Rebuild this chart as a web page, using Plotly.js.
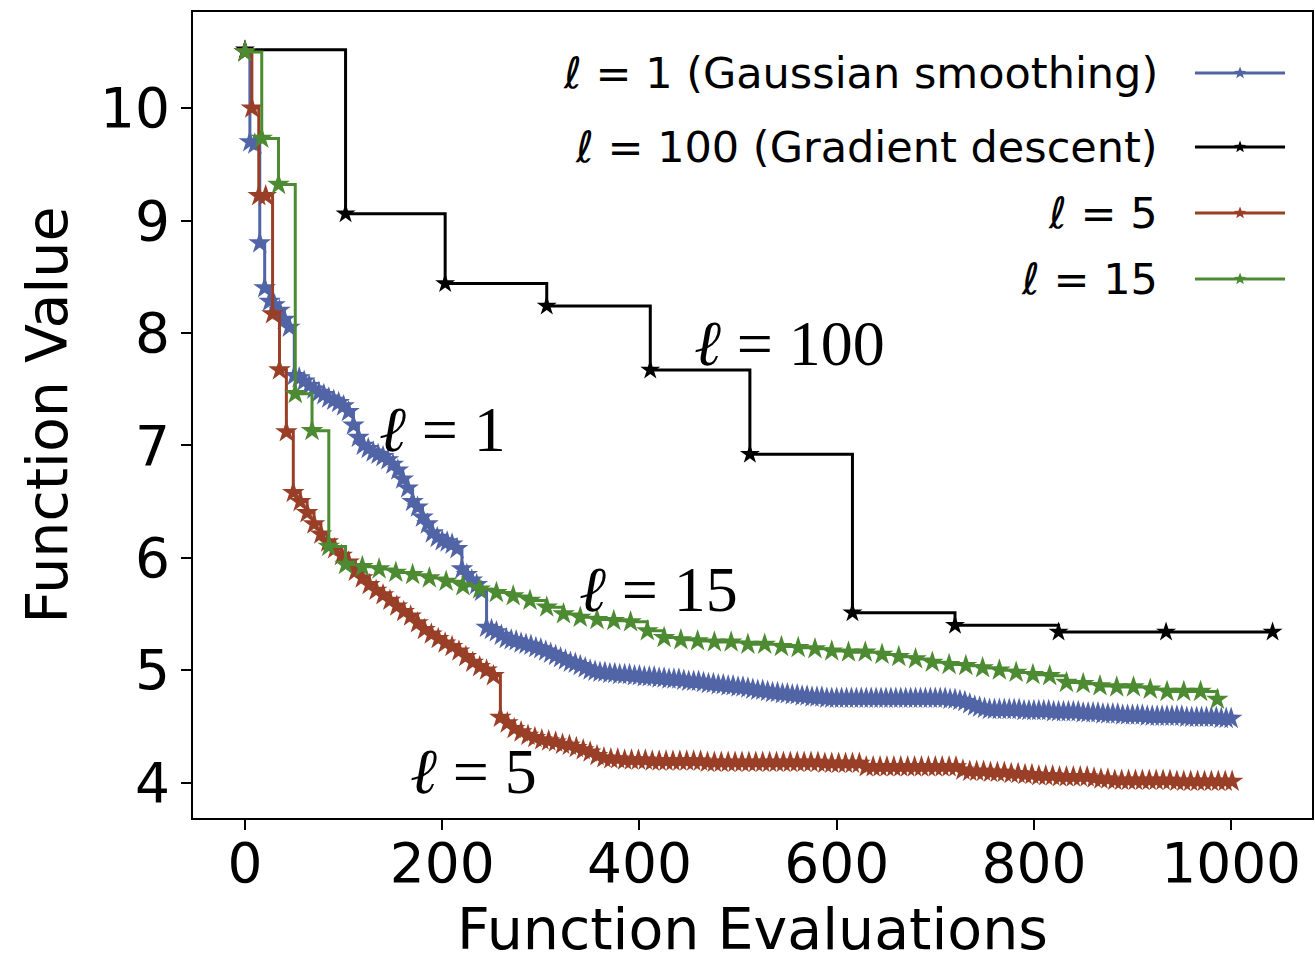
<!DOCTYPE html>
<html><head><meta charset="utf-8">
<script src="https://cdn.plot.ly/plotly-3.0.1.min.js"></script>
<style>html,body{margin:0;padding:0;background:#fff}#chart{width:1315px;height:962px}</style>
</head><body><div id="chart"></div>
<script>
// ---- data (function evaluations vs. function value) ----
const seriesNames = ["ℓ = 1 (Gaussian smoothing)", "ℓ = 100 (Gradient descent)", "ℓ = 5", "ℓ = 15"];
const curveLabels = ["ℓ = 1", "ℓ = 100", "ℓ = 5", "ℓ = 15"];

// ℓ = 1 : evaluations 0,5,10,...,1000
const evalStepL1 = 5;
const valuesL1 = [
  10.5, 9.7, 9.68, 8.8, 8.4, 8.28, 8.25, 8.2, 8.12, 8.05,
  7.62, 7.6, 7.57, 7.53, 7.5, 7.47, 7.45, 7.42, 7.4, 7.38,
  7.35, 7.3, 7.18, 7.07, 7.0, 6.97, 6.94, 6.92, 6.9, 6.87,
  6.83, 6.78, 6.7, 6.62, 6.5, 6.45, 6.36, 6.3, 6.22, 6.18,
  6.15, 6.14, 6.12, 6.08, 5.9, 5.85, 5.8, 5.76, 5.7, 5.38,
  5.36, 5.34, 5.31, 5.28, 5.27, 5.26, 5.24, 5.23, 5.22, 5.2,
  5.19, 5.17, 5.15, 5.13, 5.11, 5.09, 5.07, 5.06, 5.04, 5.02,
  5.0, 4.99, 4.98, 4.98, 4.97, 4.97, 4.96, 4.96, 4.96, 4.95,
  4.95, 4.94, 4.94, 4.94, 4.93, 4.93, 4.92, 4.92, 4.92, 4.91,
  4.9, 4.9, 4.9, 4.89, 4.88, 4.88, 4.87, 4.87, 4.86, 4.86,
  4.85, 4.85, 4.84, 4.83, 4.82, 4.82, 4.81, 4.8, 4.8, 4.79,
  4.79, 4.78, 4.78, 4.77, 4.77, 4.76, 4.76, 4.76, 4.75, 4.75,
  4.75, 4.75, 4.75, 4.75, 4.75, 4.75, 4.75, 4.75, 4.75, 4.75,
  4.75, 4.75, 4.75, 4.75, 4.75, 4.75, 4.75, 4.75, 4.75, 4.75,
  4.75, 4.75, 4.75, 4.74, 4.74, 4.73, 4.72, 4.7, 4.68, 4.67,
  4.66, 4.65, 4.65, 4.65, 4.65, 4.65, 4.65, 4.65, 4.64, 4.64,
  4.64, 4.64, 4.64, 4.64, 4.63, 4.63, 4.63, 4.63, 4.63, 4.63,
  4.62, 4.62, 4.62, 4.62, 4.61, 4.61, 4.61, 4.61, 4.6, 4.6,
  4.6, 4.6, 4.6, 4.59, 4.59, 4.59, 4.59, 4.59, 4.59, 4.59,
  4.59, 4.58, 4.58, 4.58, 4.58, 4.58, 4.58, 4.58, 4.57, 4.57,
  4.57
];

// ℓ = 100 : gradient descent iterations
const evalsL100 = [0, 102, 203, 306, 411, 512, 616, 720, 825, 934, 1042];
const valuesL100 = [10.52, 9.06, 8.44, 8.24, 7.67, 6.92, 5.51, 5.4, 5.34, 5.34, 5.34];

// ℓ = 5 : evaluations 0,7,14,...,1001
const evalStepL5 = 7;
const valuesL5 = [
  10.5, 10.0, 9.22, 9.22, 8.17, 7.67, 7.12, 6.58, 6.5, 6.4,
  6.3, 6.21, 6.14, 6.08, 6.02, 5.96, 5.88, 5.82, 5.76, 5.71,
  5.67, 5.62, 5.57, 5.52, 5.48, 5.42, 5.36, 5.32, 5.28, 5.24,
  5.21, 5.17, 5.12, 5.07, 5.03, 5.0, 4.95, 4.58, 4.53, 4.48,
  4.45, 4.42, 4.4, 4.38, 4.37, 4.36, 4.34, 4.33, 4.31, 4.29,
  4.27, 4.24, 4.22, 4.21, 4.21, 4.2, 4.2, 4.2, 4.2, 4.19,
  4.19, 4.19, 4.19, 4.19, 4.19, 4.19, 4.19, 4.18, 4.18, 4.18,
  4.18, 4.18, 4.18, 4.18, 4.18, 4.18, 4.18, 4.18, 4.18, 4.18,
  4.18, 4.18, 4.18, 4.18, 4.17, 4.17, 4.17, 4.17, 4.17, 4.17,
  4.14, 4.14, 4.14, 4.14, 4.14, 4.14, 4.14, 4.14, 4.14, 4.14,
  4.14, 4.14, 4.14, 4.14, 4.11, 4.1, 4.1, 4.1, 4.09, 4.09,
  4.09, 4.08, 4.08, 4.07, 4.07, 4.06, 4.06, 4.06, 4.05, 4.05,
  4.05, 4.05, 4.05, 4.04, 4.03, 4.03, 4.02, 4.02, 4.02, 4.02,
  4.02, 4.02, 4.02, 4.02, 4.02, 4.01, 4.01, 4.01, 4.01, 4.01,
  4.01, 4.01, 4.01, 4.01
];

// ℓ = 15 : evaluations 0,17,34,...,986
const evalStepL15 = 17;
const valuesL15 = [
  10.5, 9.73, 9.32, 7.46, 7.13, 6.1, 5.94, 5.92, 5.9, 5.87,
  5.85, 5.82, 5.79, 5.75, 5.72, 5.69, 5.66, 5.62, 5.56, 5.5,
  5.47, 5.45, 5.44, 5.43, 5.35, 5.29, 5.27, 5.26, 5.25, 5.25,
  5.23, 5.23, 5.21, 5.2, 5.19, 5.17, 5.16, 5.16, 5.14, 5.12,
  5.1, 5.07, 5.05, 5.04, 5.02, 5.0, 4.98, 4.96, 4.95, 4.89,
  4.88, 4.86, 4.85, 4.85, 4.83, 4.81, 4.81, 4.81, 4.74
];

// label anchor points (data coordinates) for the in-plot curve labels
const labelX = [200, 552, 232, 419];
const labelY = [7.14, 7.91, 4.10, 5.72];

// ---- styles ----
const colors = ['#5064a6', '#000000', '#9a3f27', '#4d8b32'];
const lineW = 3, markerSize = 17;

function mk(i, extra) {
  return Object.assign({
    type: 'scatter', mode: 'lines+markers', name: seriesNames[i],
    line: {color: colors[i], width: lineW, shape: 'hv'},
    marker: {symbol: 'star', size: markerSize, color: colors[i], line: {width: 0}},
    showlegend: false, hoverinfo: 'skip'
  }, extra);
}

const traces = [
  mk(0, {y: valuesL1, x0: 0, dx: evalStepL1}),
  mk(1, {x: evalsL100, y: valuesL100, marker: {symbol: 'star', size: 15, color: colors[1], line: {width: 0}}}),
  mk(2, {y: valuesL5, x0: 0, dx: evalStepL5}),
  mk(3, {y: valuesL15, x0: 0, dx: evalStepL15})
];

// ---- legend (text left of the sample, as in the original) ----
const legRowY = [0.9243, 0.8325, 0.7506, 0.6687];
const legTextX = 0.8642, legLineX0 = 0.8954, legLineX1 = 0.9759, legStarX = 0.9357;

function starPath(R, r) {
  const pts = [];
  for (let k = 0; k < 10; k++) {
    const a = Math.PI / 2 + k * Math.PI / 5;
    const rad = (k % 2 === 0) ? R : r;
    pts.push((rad * Math.cos(a)).toFixed(2) + ',' + (rad * Math.sin(a)).toFixed(2));
  }
  return 'M' + pts.join('L') + 'Z';
}

const annotations = [];
const shapes = [];
seriesNames.forEach((nm, i) => {
  annotations.push({
    xref: 'paper', yref: 'paper', x: legTextX, y: legRowY[i],
    xanchor: 'right', yanchor: 'middle', showarrow: false,
    text: nm.replace('ℓ', '<i>ℓ</i>'),
    font: {family: 'DejaVu Sans', size: 43, color: '#000'}
  });
  shapes.push({
    type: 'line', xref: 'paper', yref: 'paper',
    x0: legLineX0, x1: legLineX1, y0: legRowY[i], y1: legRowY[i],
    line: {color: colors[i], width: lineW}
  });
  shapes.push({
    type: 'path', xref: 'paper', yref: 'paper',
    xsizemode: 'pixel', ysizemode: 'pixel', xanchor: legStarX, yanchor: legRowY[i],
    path: starPath(6.5, 2.7), fillcolor: colors[i], line: {width: 0}
  });
});

curveLabels.forEach((t, i) => {
  annotations.push({
    xref: 'x', yref: 'y', x: labelX[i], y: labelY[i],
    xanchor: 'center', yanchor: 'middle', showarrow: false,
    text: t.replace('ℓ', '<i>ℓ</i>'),
    font: {family: 'Liberation Serif', size: 64, color: '#000'}
  });
});

const axisCommon = {
  showgrid: false, zeroline: false,
  showline: true, mirror: true, linecolor: '#000', linewidth: 2,
  ticks: 'outside', ticklen: 10, tickwidth: 2, tickcolor: '#000',
  tickfont: {family: 'DejaVu Sans', size: 55, color: '#000'}
};

const layout = {
  width: 1315, height: 962,
  margin: {l: 193, r: 3, t: 12, b: 144},
  paper_bgcolor: '#fff', plot_bgcolor: '#fff',
  showlegend: false,
  xaxis: Object.assign({}, axisCommon, {
    range: [-52.7, 1082], tickmode: 'linear', tick0: 0, dtick: 200,
    ticklabelstandoff: -14,
    title: {text: 'Function Evaluations', standoff: 16,
            font: {family: 'DejaVu Sans', size: 57, color: '#000'}},
    automargin: false
  }),
  yaxis: Object.assign({}, axisCommon, {
    range: [3.685, 10.855], tickmode: 'linear', tick0: 4, dtick: 1,
    title: {text: 'Function Value', standoff: 14,
            font: {family: 'DejaVu Sans', size: 57, color: '#000'}},
    automargin: false
  }),
  annotations: annotations,
  shapes: shapes
};

Plotly.newPlot('chart', traces, layout, {staticPlot: true, displayModeBar: false});
</script>
</body></html>
